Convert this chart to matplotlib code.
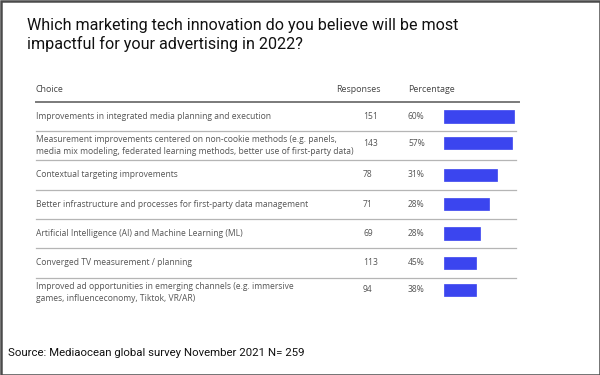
import matplotlib.pyplot as plt
from matplotlib.patches import Rectangle

# Datos de la tabla
choices = [
    "Improvements in integrated media planning and execution",
    "Measurement improvements centered on non-cookie methods (e.g. panels,\nmedia mix modeling, federated learning methods, better use of first-party data)",
    "Contextual targeting improvements",
    "Better infrastructure and processes for first-party data management",
    "Artificial Intelligence (AI) and Machine Learning (ML)",
    "Converged TV measurement / planning",
    "Improved ad opportunities in emerging channels (e.g. immersive\ngames, influenceconomy, Tiktok, VR/AR)",
]
responses = [151, 143, 78, 71, 69, 113, 94]
percentages = ["60%", "57%", "31%", "28%", "28%", "45%", "38%"]
# longitud de barra (no coincide con el porcentaje)
bar_lengths = [70.7, 68.0, 53.7, 45.3, 36.7, 32.7, 32.7]

title = "Which marketing tech innovation do you believe will be most\nimpactful for your advertising in 2022?"
source = "Source: Mediaocean global survey November 2021 N= 259"

plt.rcParams['font.family'] = ['Roboto', 'DejaVu Sans']

fig = plt.figure(figsize=(6, 3.75), dpi=100)
ax = fig.add_axes([0, 0, 1, 1])
ax.set_xlim(0, 600)
ax.set_ylim(375, 0)
ax.axis('off')

# marco
ax.add_patch(Rectangle((0.5, 0.5), 599, 374, fill=False, edgecolor='#4a4a4a', lw=1.8))

ax.text(27, 35, title, fontsize=11.6, color='#111111', va='center', ha='left', linespacing=1.3)

# encabezado de la tabla
tfont = ['Open Sans', 'DejaVu Sans']
tcol = '#555555'
fs = 6.15
x_choice, x_resp, x_pct, x_bar = 36, 363, 408, 443.5
ax.text(x_choice, 90, "Choice", fontsize=6.4, color='#444444', va='center', family=tfont)
ax.text(358, 90, "Responses", fontsize=6.4, color='#444444', va='center', ha='center', family=tfont)
ax.text(x_pct, 90, "Percentage", fontsize=6.4, color='#444444', va='center', family=tfont)
ax.plot([36, 519], [101.7, 101.7], color='#7a7a7a', lw=1.4)

top, row_h = 101.7, 29.3
centers = [top + row_h * (i + 0.5) for i in range(len(choices))]

for i, (c, r, p) in enumerate(zip(choices, responses, percentages)):
    y = centers[i]
    ax.text(x_choice, y, c, fontsize=fs, color=tcol, va='center', linespacing=1.45, family=tfont)
    ny = y - 2.5 if "\n" in c else y
    ax.text(x_resp, ny, str(r), fontsize=fs, color=tcol, va='center', family=tfont)
    ax.text(x_pct, ny, p, fontsize=fs, color=tcol, va='center', family=tfont)
    if i < len(choices) - 1:
        ax.plot([36, 516], [top + row_h * (i + 1)] * 2, color='#b5b5b5', lw=0.9)

ax.barh([c - (2.5 if "\n" in ch else 0) for c, ch in zip(centers, choices)],
        bar_lengths, left=x_bar, height=12.3, color='#3b45ef', edgecolor='#3b45ef', lw=0.5)

ax.text(8, 353, source, fontsize=8.2, color='#111111', va='center', ha='left')

fig.savefig('out.png', dpi=100)
